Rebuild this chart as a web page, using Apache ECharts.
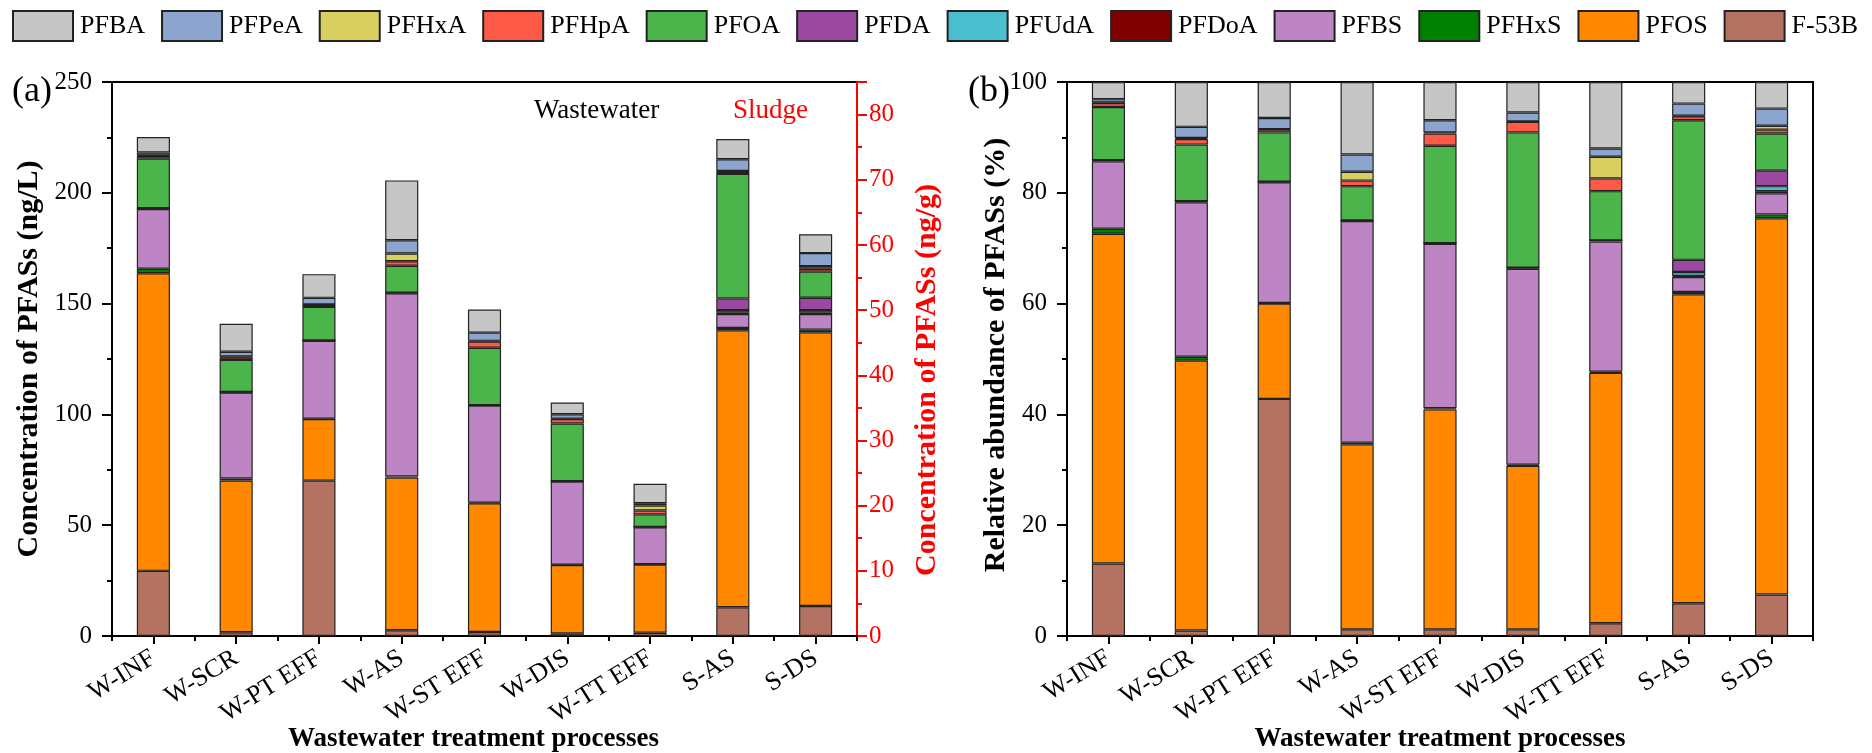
<!DOCTYPE html>
<html>
<head>
<meta charset="utf-8">
<script src="https://cdn.jsdelivr.net/npm/echarts@6/dist/echarts.min.js"></script>
<style>
  html, body { margin: 0; padding: 0; background: #fff; }
  #main { width: 1872px; height: 753px; }
</style>
</head>
<body>
<div id="main"></div>
<script>
const categories = ['W-INF', 'W-SCR', 'W-PT EFF', 'W-AS', 'W-ST EFF', 'W-DIS', 'W-TT EFF', 'S-AS', 'S-DS']
const legendOrder = ['PFBA', 'PFPeA', 'PFHxA', 'PFHpA', 'PFOA', 'PFDA', 'PFUdA', 'PFDoA', 'PFBS', 'PFHxS', 'PFOS', 'F-53B']
const colors = ['#c6c6c6', '#8ca5cf', '#d8cf5e', '#ff5a48', '#4bb54b', '#9a48a0', '#4bbed0', '#800000', '#be85c4', '#008000', '#ff8800', '#b37262']

// (a) concentration: first 7 in ng/L (wastewater), last 2 in ng/g (sludge)
const concPFBA  = [7.0, 12.6, 10.7, 27.0, 10.4, 5.3, 8.8, 3.1, 2.9]
const concPFPeA = [1.3, 2.2, 3.0, 6.0, 3.7, 2.0, 1.0, 1.8, 2.0]
const concPFHxA = [0.3, 0.3, 0.2, 3.5, 0.3, 0.2, 2.3, 0.1, 0.4]
const concPFHpA = [1.2, 1.2, 0.9, 2.0, 2.8, 2.0, 1.7, 0.35, 0.45]
const concPFOA  = [22.4, 14.5, 15.1, 12.2, 25.9, 26.0, 5.7, 19.1, 4.0]
const concPFDA  = [0, 0, 0, 0, 0, 0, 0, 1.8, 1.9]
const concPFUdA = [0, 0, 0, 0, 0, 0, 0, 0.4, 0.4]
const concPFDoA = [0.3, 0.2, 0.2, 0.2, 0.2, 0.2, 0.2, 0.2, 0.2]
const concPFBS  = [27.0, 38.8, 35.1, 82.7, 43.8, 37.5, 16.6, 2.15, 2.4]
const concPFHxS = [2.0, 0.9, 0.2, 0.5, 0.3, 0.2, 0.2, 0.35, 0.4]
const concPFOS  = [134.3, 68.5, 27.8, 68.9, 58.1, 30.8, 30.7, 42.5, 42.0]
const concF53B  = [29.4, 1.7, 70.1, 2.6, 1.8, 1.2, 1.5, 4.4, 4.6]

// (b) relative abundance (%)
const relPFBA  = [3.1, 8.1, 6.5, 13.1, 6.9, 5.5, 12.0, 3.9, 4.8]
const relPFPeA = [0.6, 2.0, 2.0, 3.1, 2.2, 1.6, 1.5, 2.2, 3.1]
const relPFHxA = [0.1, 0.2, 0.1, 1.6, 0.2, 0.1, 3.9, 0.1, 0.7]
const relPFHpA = [0.7, 1.0, 0.5, 1.0, 2.2, 1.9, 2.3, 0.7, 0.7]
const relPFOA  = [9.6, 10.2, 8.9, 6.2, 17.6, 24.4, 8.9, 25.2, 6.7]
const relPFDA  = [0, 0, 0, 0, 0, 0, 0, 2.2, 2.8]
const relPFUdA = [0, 0, 0, 0, 0, 0, 0, 0.7, 0.9]
const relPFDoA = [0.2, 0.2, 0.1, 0.1, 0.1, 0.2, 0.2, 0.2, 0.4]
const relPFBS  = [12.2, 27.9, 21.8, 40.0, 29.7, 35.4, 23.5, 2.7, 3.8]
const relPFHxS = [0.9, 0.7, 0.1, 0.3, 0.2, 0.2, 0.2, 0.4, 0.7]
const relPFOS  = [59.5, 48.7, 17.2, 33.4, 39.7, 29.5, 45.2, 55.8, 67.9]
const relF53B  = [13.1, 1.0, 42.8, 1.2, 1.2, 1.2, 2.3, 5.9, 7.5]

const concTable = [concPFBA, concPFPeA, concPFHxA, concPFHpA, concPFOA, concPFDA, concPFUdA, concPFDoA, concPFBS, concPFHxS, concPFOS, concF53B]
const relTable = [relPFBA, relPFPeA, relPFHxA, relPFHpA, relPFOA, relPFDA, relPFUdA, relPFDoA, relPFBS, relPFHxS, relPFOS, relF53B]
const wwCount = 7

const FONT = 'Liberation Serif'

function barItem(i) {
  return { color: colors[i], borderColor: '#222', borderWidth: 1.2 }
}

// series: bottom of stack first, so walk the legend backwards
const series = []
for (let i = legendOrder.length - 1; i >= 0; i--) {
  const name = legendOrder[i]
  series.push({
    name: name, type: 'bar', xAxisIndex: 0, yAxisIndex: 0, stack: 'ww',
    barWidth: '40%', barGap: '-100%', itemStyle: barItem(i),
    data: concTable[i].map((v, k) => k < wwCount ? v : '-')
  })
  series.push({
    name: name, type: 'bar', xAxisIndex: 0, yAxisIndex: 1, stack: 'sl',
    barWidth: '40%', barGap: '-100%', itemStyle: barItem(i),
    data: concTable[i].map((v, k) => k >= wwCount ? v : '-')
  })
  series.push({
    name: name, type: 'bar', xAxisIndex: 2, yAxisIndex: 2, stack: 'rel',
    barWidth: '40%', itemStyle: barItem(i),
    data: relTable[i]
  })
}

function catAxis(grid, shift) {
  return {
    gridIndex: grid, type: 'category', data: categories,
    axisLine: { lineStyle: { color: '#000', width: 2 } },
    axisTick: { show: true, interval: 0, length: 5, lineStyle: { color: '#000', width: 2 } },
    axisLabel: { interval: 0, rotate: 32, fontFamily: FONT, fontSize: 26, color: '#000', margin: 20 },
    splitLine: { show: true, interval: (idx) => idx === wwCount, lineStyle: { color: '#000', width: 2 } },
    name: 'Wastewater treatment processes', nameLocation: 'middle', nameGap: 90, nameMoveOverlap: false,
    nameTextStyle: { fontFamily: FONT, fontWeight: 'bold', fontSize: 27, color: '#000', padding: [0, shift, 0, 0] }
  }
}

function centerTicks(grid) {
  return {
    gridIndex: grid, type: 'category', data: categories, position: 'bottom',
    axisLine: { show: false }, axisLabel: { show: false },
    axisTick: { show: true, interval: 0, alignWithLabel: true, length: 8, lineStyle: { color: '#000', width: 2 } }
  }
}

function valAxis(grid, opts, color) {
  return Object.assign({
    gridIndex: grid, type: 'value', min: 0,
    axisLine: { show: true, lineStyle: { color: color, width: 2 } },
    axisTick: { show: true, length: 10, lineStyle: { color: color, width: 2 } },
    minorTick: { show: true, splitNumber: 2, length: 5, lineStyle: { color: color, width: 2 } },
    splitLine: { show: false },
    axisLabel: { fontFamily: FONT, fontSize: 25, color: color, margin: 20 }
  }, opts)
}

function yTitle(text, x, y, color) {
  return {
    type: 'text', x: x, y: y, rotation: Math.PI / 2,
    style: {
      text: text, font: 'bold 30px "Liberation Serif"', fill: color,
      align: 'center', verticalAlign: 'middle', textAlign: 'center', textVerticalAlign: 'middle'
    }
  }
}

const chart = echarts.init(document.getElementById('main'), null, { renderer: 'canvas' })

chart.setOption({
  backgroundColor: '#fff',
  animation: false,
  legend: {
    data: legendOrder, top: 10, left: 12, width: 1860, padding: 0,
    itemWidth: 60, itemHeight: 30, itemGap: 16, icon: 'rect',
    textStyle: { fontFamily: FONT, fontSize: 26, color: '#000', padding: [0, 0, 0, 2] }
  },
  grid: [
    { left: 112, width: 745, top: 82, bottom: 117, containLabel: false, outerBoundsMode: 'none',
      show: true, borderColor: '#000', borderWidth: 2 },
    { left: 1067, width: 746, top: 82, bottom: 117, containLabel: false, outerBoundsMode: 'none',
      show: true, borderColor: '#000', borderWidth: 2 }
  ],
  xAxis: [catAxis(0, 22), centerTicks(0), catAxis(1, 0), centerTicks(1)],
  yAxis: [
    valAxis(0, { max: 250, interval: 50, position: 'left' }, '#000'),
    valAxis(0, { max: 85, interval: 10, position: 'right',
      axisLabel: { fontFamily: FONT, fontSize: 25, color: '#ff0000', margin: 12, showMaxLabel: false } }, '#ff0000'),
    valAxis(1, { max: 100, interval: 20, position: 'left' }, '#000')
  ],
  graphic: [
    { type: 'text', left: 12, top: 74, style: { text: '(a)', font: '36px "Liberation Serif"', fill: '#000' } },
    { type: 'text', left: 968, top: 74, style: { text: '(b)', font: '36px "Liberation Serif"', fill: '#000' } },
    { type: 'text', left: 534, top: 97, style: { text: 'Wastewater', font: '27px "Liberation Serif"', fill: '#000' } },
    { type: 'text', left: 733, top: 97, style: { text: 'Sludge', font: '27px "Liberation Serif"', fill: '#ff0000' } },
    yTitle('Concentration of PFASs (ng/L)', 29, 359, '#000'),
    yTitle('Concentration of PFASs (ng/g)', 927, 380, '#ff0000'),
    yTitle('Relative abundance of PFASs (%)', 996, 355, '#000')
  ],
  series: series
})
</script>
</body>
</html>
